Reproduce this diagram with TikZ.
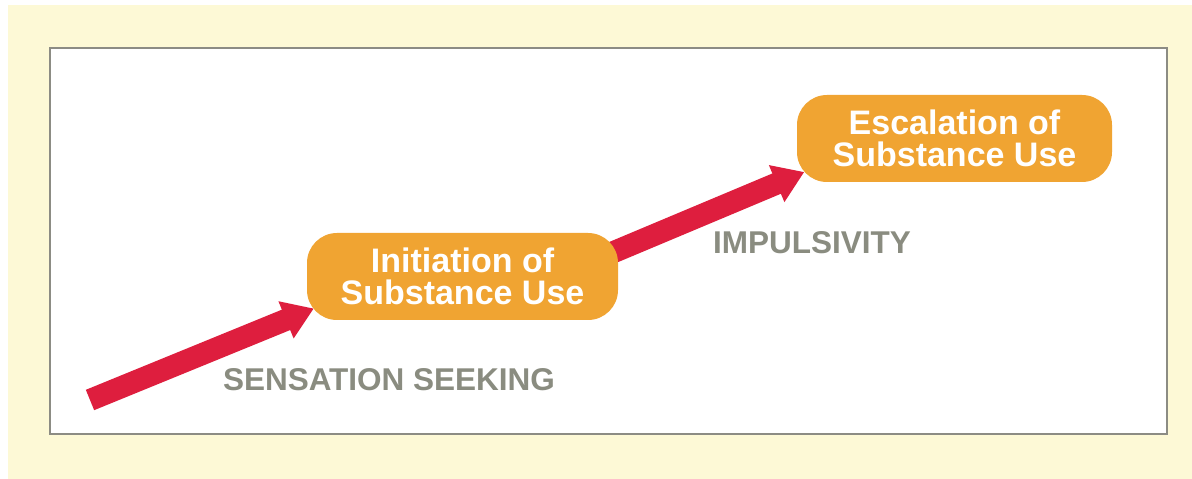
\documentclass[tikz,border=0pt]{standalone}
\usepackage{fontspec}
\setmainfont{Liberation Sans}
\usetikzlibrary{arrows.meta}
\definecolor{cream}{RGB}{253,249,214}
\definecolor{framegray}{RGB}{140,140,132}
\definecolor{boxorange}{RGB}{240,164,50}
\definecolor{arrowred}{RGB}{222,30,62}
\definecolor{labelgray}{RGB}{138,140,128}
\pgfdeclarelayer{bg}
\pgfdeclarelayer{arr}
\pgfsetlayers{bg,arr,main}
\begin{document}
\begin{tikzpicture}[x=1pt,y=1pt,
  stagebox/.style={fill=boxorange, rounded corners=30pt, minimum width=311pt,
    minimum height=87pt, inner sep=0pt, align=center, text=white,
    font=\fontsize{34}{32.5}\selectfont\bfseries},
  factorlabel/.style={text=labelgray, inner sep=0pt,
    font=\fontsize{31.5}{31}\selectfont\bfseries},
  bigarrow/.style={draw=arrowred, line width=22pt,
    -{Triangle[width=38pt,length=30pt]}}]
\useasboundingbox (0,0) rectangle (1192,479);
\begin{pgfonlayer}{bg}
  \fill[white] (0,0) rectangle (1192,479);
  \fill[cream] (8,0) rectangle (1192,474);
  \draw[framegray, line width=2.5pt, fill=white] (50,45) rectangle (1167,431);
\end{pgfonlayer}
\node[stagebox] (init) at (462.5,202.5) {Initiation of\\Substance Use};
\node[stagebox, minimum width=315pt] (esc) at (954.5,340.5) {Escalation of\\Substance Use};
\coordinate (start) at (90,79);
\node[factorlabel] (sens) at (389,99) {SENSATION SEEKING};
\node[factorlabel] (imp) at (812,236) {IMPULSIVITY};
\begin{pgfonlayer}{arr}
  \draw[bigarrow] (start) -- ([shift={(7pt,-32pt)}]init.west);
  \draw[bigarrow] ([shift={(-8pt,23pt)}]init.east) -- ([shift={(7.5pt,-33.5pt)}]esc.west);
\end{pgfonlayer}
\end{tikzpicture}
\end{document}
